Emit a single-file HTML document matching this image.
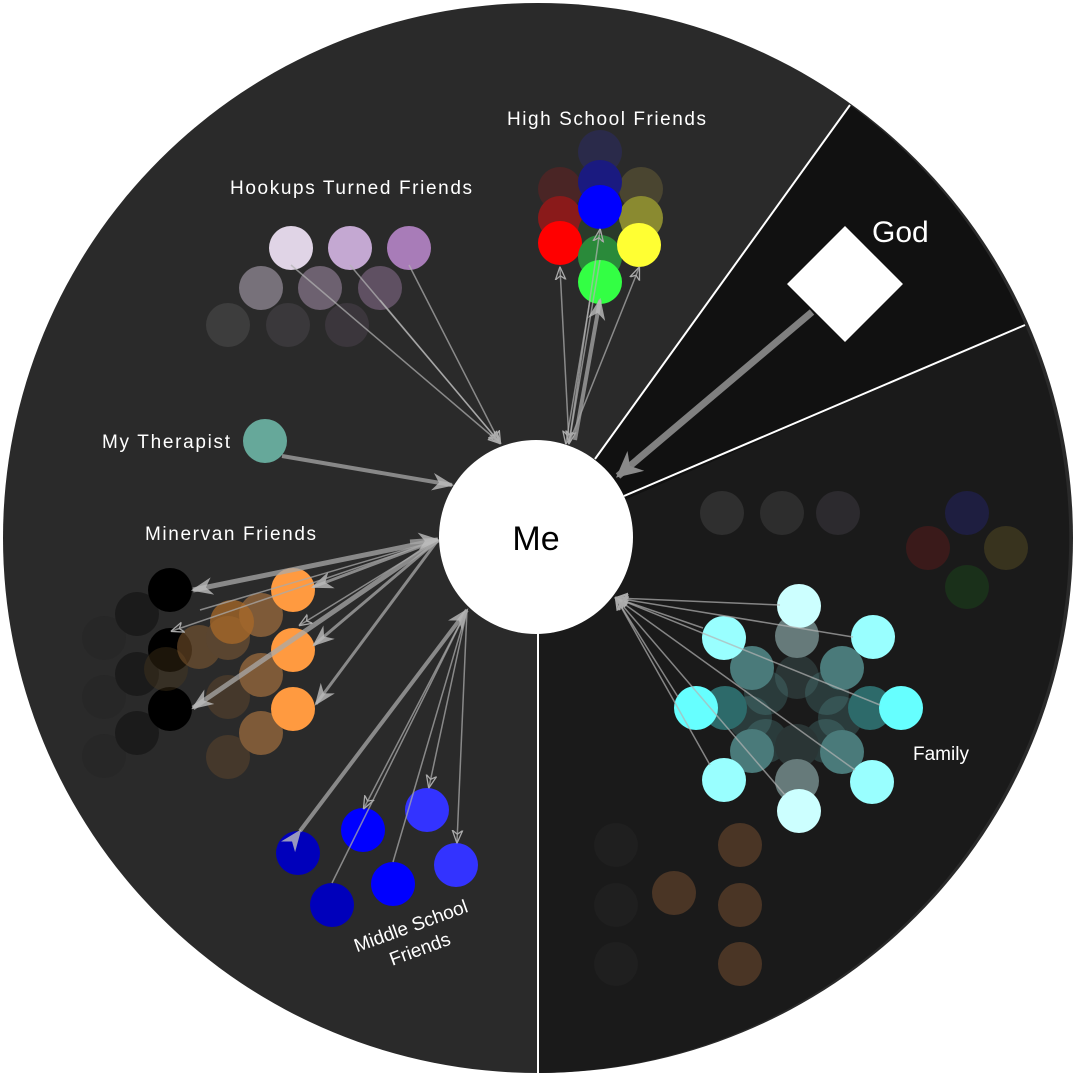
<!DOCTYPE html>
<html><head><meta charset="utf-8"><style>
html,body{margin:0;padding:0;background:#fff;width:1076px;height:1076px;overflow:hidden}
svg{display:block}
text{font-family:"Liberation Sans",Arial,sans-serif;fill:#fff}
</style></head><body>
<svg width="1076" height="1076" viewBox="0 0 1076 1076" xmlns="http://www.w3.org/2000/svg">
<defs>
<marker id="a" viewBox="0 0 10 10" refX="9" refY="5" markerWidth="13" markerHeight="13" orient="auto" markerUnits="userSpaceOnUse">
<path d="M0,1 L10,5 L0,9 L3,5 Z" fill="none" stroke="#aaa" stroke-width="1"/></marker>
<marker id="b" viewBox="0 0 10 10" refX="9" refY="5" markerWidth="22" markerHeight="22" orient="auto" markerUnits="userSpaceOnUse">
<path d="M0,1 L10,5 L0,9 L3,5 Z" fill="rgba(190,190,190,0.8)"/></marker>
<marker id="c" viewBox="0 0 10 10" refX="9" refY="5" markerWidth="26" markerHeight="26" orient="auto" markerUnits="userSpaceOnUse">
<path d="M0,0 L10,5 L0,10 L3,5 Z" fill="#8a8a8a"/></marker>
</defs>
<circle cx="538" cy="538" r="535" fill="#2a2a2a"/>
<path d="M538,538 L850,105 A535,535 0 0,1 1025,325 Z" fill="#111"/>
<path d="M538,538 L1025,325 A535,535 0 0,1 538,1073 Z" fill="#1a1a1a"/>
<line x1="595" y1="459" x2="850" y2="105" stroke="#fff" stroke-width="2"/>
<line x1="624" y1="496" x2="1025" y2="325" stroke="#fff" stroke-width="2"/>
<line x1="538" y1="633" x2="538" y2="1073" stroke="#fff" stroke-width="2"/>

<g>
<circle cx="722" cy="513" r="22" fill="#2f2f2f"/><circle cx="782" cy="513" r="22" fill="#2d2d2d"/><circle cx="838" cy="513" r="22" fill="#2c2a2e"/>
<circle cx="967" cy="513" r="22" fill="#1e1e40"/><circle cx="928" cy="548" r="22" fill="#3a1a1a"/><circle cx="1006" cy="548" r="22" fill="#38331e"/><circle cx="967" cy="587" r="22" fill="#1a301a"/>
<circle cx="616" cy="845" r="22" fill="#1f1f1f"/><circle cx="740" cy="845" r="22" fill="#4a3525"/><circle cx="674" cy="893" r="22" fill="#4a3525"/>
<circle cx="616" cy="905" r="22" fill="#1f1f1f"/><circle cx="740" cy="905" r="22" fill="#4a3525"/>
<circle cx="616" cy="964" r="22" fill="#1f1f1f"/><circle cx="740" cy="964" r="22" fill="#4a3525"/>
</g>

<g>
<circle cx="797" cy="677" r="22" fill="#2a3535"/>
<circle cx="766" cy="693" r="22" fill="rgba(90,160,160,0.25)"/><circle cx="827" cy="693" r="22" fill="rgba(90,160,160,0.25)"/>
<circle cx="750" cy="718" r="22" fill="rgba(90,160,160,0.25)"/><circle cx="840" cy="718" r="22" fill="rgba(90,160,160,0.25)"/>
<circle cx="766" cy="741" r="22" fill="rgba(90,160,160,0.25)"/><circle cx="826" cy="741" r="22" fill="rgba(90,160,160,0.25)"/>
<circle cx="797" cy="746" r="22" fill="#2a3535"/>
<circle cx="797" cy="636" r="22" fill="#667a7a"/><circle cx="752" cy="668" r="22" fill="#4a7a7a"/><circle cx="842" cy="668" r="22" fill="#4a7a7a"/>
<circle cx="725" cy="708" r="22" fill="#2d6a6a"/><circle cx="870" cy="708" r="22" fill="#2d6a6a"/>
<circle cx="752" cy="751" r="22" fill="#4a7a7a"/><circle cx="842" cy="752" r="22" fill="#4a7a7a"/><circle cx="797" cy="781" r="22" fill="#667a7a"/>
<circle cx="799" cy="606" r="22" fill="#ccffff"/><circle cx="724" cy="638" r="22" fill="#99ffff"/><circle cx="873" cy="637" r="22" fill="#99ffff"/>
<circle cx="696" cy="708" r="22" fill="#66ffff"/><circle cx="901" cy="708" r="22" fill="#66ffff"/>
<circle cx="724" cy="780" r="22" fill="#99ffff"/><circle cx="872" cy="782" r="22" fill="#99ffff"/><circle cx="799" cy="811" r="22" fill="#ccffff"/>
</g>
<g stroke="rgba(180,180,180,0.7)" stroke-width="1.5" fill="none" marker-end="url(#a)">
<line x1="780" y1="605" x2="616" y2="598"/><line x1="853" y1="637" x2="616" y2="598"/>
<line x1="703" y1="628" x2="616" y2="598"/><line x1="678" y1="697" x2="616" y2="598"/>
<line x1="710" y1="765" x2="616" y2="598"/><line x1="785" y1="795" x2="616" y2="598"/>
<line x1="855" y1="770" x2="616" y2="598"/><line x1="880" y1="705" x2="616" y2="598"/>
</g>
<text x="913" y="760" font-size="19">Family</text>

<g>
<circle cx="228" cy="325" r="22" fill="#3d3d3d"/><circle cx="288" cy="325" r="22" fill="#3a383b"/><circle cx="347" cy="325" r="22" fill="#3b363c"/>
<circle cx="261" cy="288" r="22" fill="#77717a"/><circle cx="320" cy="288" r="22" fill="#6d6170"/><circle cx="380" cy="288" r="22" fill="#5f5062"/>
<circle cx="291" cy="248" r="22" fill="#e0d4e6"/><circle cx="350" cy="248" r="22" fill="#c4a8d2"/><circle cx="409" cy="248" r="22" fill="#a87cb8"/>
</g>
<text x="230" y="194" font-size="19" textLength="242">Hookups Turned Friends</text>
<g stroke="rgba(180,180,180,0.7)" stroke-width="1.5" fill="none" marker-end="url(#a)">
<line x1="291" y1="265" x2="500" y2="443"/><line x1="350" y1="265" x2="500" y2="443"/>
<line x1="409" y1="265" x2="500" y2="443"/><line x1="380" y1="300" x2="500" y2="443"/>
</g>

<g>
<circle cx="600" cy="152" r="22" fill="#2a2a4a"/>
<circle cx="560" cy="189" r="22" fill="#4a2525"/><circle cx="641" cy="189" r="22" fill="#4a4530"/>
<circle cx="600" cy="182" r="22" fill="#1a1a80"/>
<circle cx="560" cy="218" r="22" fill="#8a1a1a"/><circle cx="641" cy="218" r="22" fill="#8a8a30"/>
<circle cx="600" cy="232" r="22" fill="#2a3a2a"/>
<circle cx="600" cy="207" r="22" fill="#0000ff"/>
<circle cx="560" cy="243" r="22" fill="#ff0000"/>
<circle cx="600" cy="257" r="22" fill="#2a8a3a"/>
<circle cx="639" cy="245" r="22" fill="#ffff33"/>
<circle cx="600" cy="282" r="22" fill="#33ff44"/>
</g>
<text x="507" y="125" font-size="19" textLength="199">High School Friends</text>
<g stroke="rgba(180,180,180,0.7)" stroke-width="1.5" fill="none" marker-end="url(#a)">
<line x1="569" y1="443" x2="560" y2="268"/><line x1="569" y1="443" x2="639" y2="268"/>
<line x1="569" y1="443" x2="600" y2="230"/>
<line x1="600" y1="260" x2="569" y2="443"/>
<line x1="590" y1="300" x2="566" y2="443"/>
</g>
<line x1="575" y1="440" x2="600" y2="300" stroke="rgba(160,160,160,0.8)" stroke-width="4" marker-end="url(#b)"/>

<circle cx="265" cy="441" r="22" fill="#66a89a"/>
<text x="102" y="448" font-size="19" textLength="128">My Therapist</text>
<line x1="282" y1="456" x2="452" y2="485" stroke="rgba(160,160,160,0.8)" stroke-width="4" marker-end="url(#b)"/>

<g>
<circle cx="104" cy="638" r="22" fill="#272727"/><circle cx="104" cy="697" r="22" fill="#272727"/><circle cx="104" cy="756" r="22" fill="#272727"/>
<circle cx="137" cy="614" r="22" fill="#1b1b1b"/><circle cx="137" cy="674" r="22" fill="#1b1b1b"/><circle cx="137" cy="733" r="22" fill="#1b1b1b"/>
<circle cx="170" cy="590" r="22" fill="#000"/><circle cx="170" cy="650" r="22" fill="#000"/><circle cx="170" cy="709" r="22" fill="#000"/>
<circle cx="166" cy="669" r="22" fill="rgba(80,60,30,0.35)"/>
<circle cx="228" cy="757" r="22" fill="#45382b"/><circle cx="228" cy="697" r="22" fill="#45382b"/>
<circle cx="199" cy="647" r="22" fill="rgba(140,95,50,0.5)"/>
<circle cx="228" cy="638" r="22" fill="#5a4530"/>
<circle cx="261" cy="615" r="22" fill="#7e5a38"/><circle cx="261" cy="675" r="22" fill="#7e5a38"/><circle cx="261" cy="733" r="22" fill="#7e5a38"/>
<circle cx="232" cy="622" r="22" fill="rgba(170,105,40,0.75)"/>
<circle cx="293" cy="590" r="22" fill="#ff9a40"/><circle cx="293" cy="650" r="22" fill="#ff9a40"/><circle cx="293" cy="709" r="22" fill="#ff9a40"/>
</g>
<text x="145" y="540" font-size="19" textLength="171">Minervan Friends</text>
<g stroke="rgba(170,170,170,0.75)" fill="none">
<line x1="438" y1="540" x2="193" y2="590" stroke-width="5" marker-end="url(#b)"/>
<line x1="438" y1="540" x2="313" y2="587" stroke-width="3" marker-end="url(#b)"/>
<line x1="438" y1="540" x2="172" y2="631" stroke-width="1.5" marker-end="url(#a)"/>
<line x1="438" y1="540" x2="200" y2="610" stroke-width="1.5"/>
<line x1="438" y1="540" x2="300" y2="625" stroke-width="1.5" marker-end="url(#a)"/>
<line x1="438" y1="540" x2="314" y2="645" stroke-width="3" marker-end="url(#b)"/>
<line x1="438" y1="540" x2="193" y2="708" stroke-width="5" marker-end="url(#b)"/>
<line x1="438" y1="540" x2="316" y2="704" stroke-width="3" marker-end="url(#b)"/>
<line x1="410" y1="542" x2="438" y2="540" stroke-width="5" marker-end="url(#b)"/>
</g>

<g>
<circle cx="298" cy="853" r="22" fill="#0000bb"/><circle cx="363" cy="830" r="22" fill="#0000ff"/><circle cx="427" cy="810" r="22" fill="#3333ff"/>
<circle cx="332" cy="905" r="22" fill="#0000bb"/><circle cx="393" cy="884" r="22" fill="#0000ff"/><circle cx="456" cy="865" r="22" fill="#3333ff"/>
</g>
<g stroke="rgba(170,170,170,0.75)" fill="none">
<line x1="300" y1="831" x2="467" y2="610" stroke-width="4" marker-start="url(#b)" marker-end="url(#b)"/>
<line x1="467" y1="610" x2="364" y2="808" stroke-width="1.5" marker-end="url(#a)"/>
<line x1="332" y1="883" x2="467" y2="610" stroke-width="1.5"/>
<line x1="393" y1="862" x2="467" y2="610" stroke-width="1.5"/>
<line x1="467" y1="610" x2="429" y2="787" stroke-width="1.5" marker-end="url(#a)"/>
<line x1="467" y1="610" x2="457" y2="842" stroke-width="1.5" marker-end="url(#a)"/>
</g>
<text transform="translate(413,932) rotate(-20)" font-size="19" text-anchor="middle">Middle School</text>
<text transform="translate(422,955) rotate(-20)" font-size="19" text-anchor="middle">Friends</text>

<rect x="804" y="243" width="82" height="82" fill="#fff" transform="rotate(45 845 284)"/>
<text x="872" y="242" font-size="30">God</text>
<line x1="812" y1="312" x2="618" y2="476" stroke="#808080" stroke-width="7" marker-end="url(#c)"/>

<circle cx="536" cy="537" r="97" fill="#fff"/>
<text x="536" y="550" font-size="34" text-anchor="middle" style="fill:#000">Me</text>
</svg>
</body></html>
